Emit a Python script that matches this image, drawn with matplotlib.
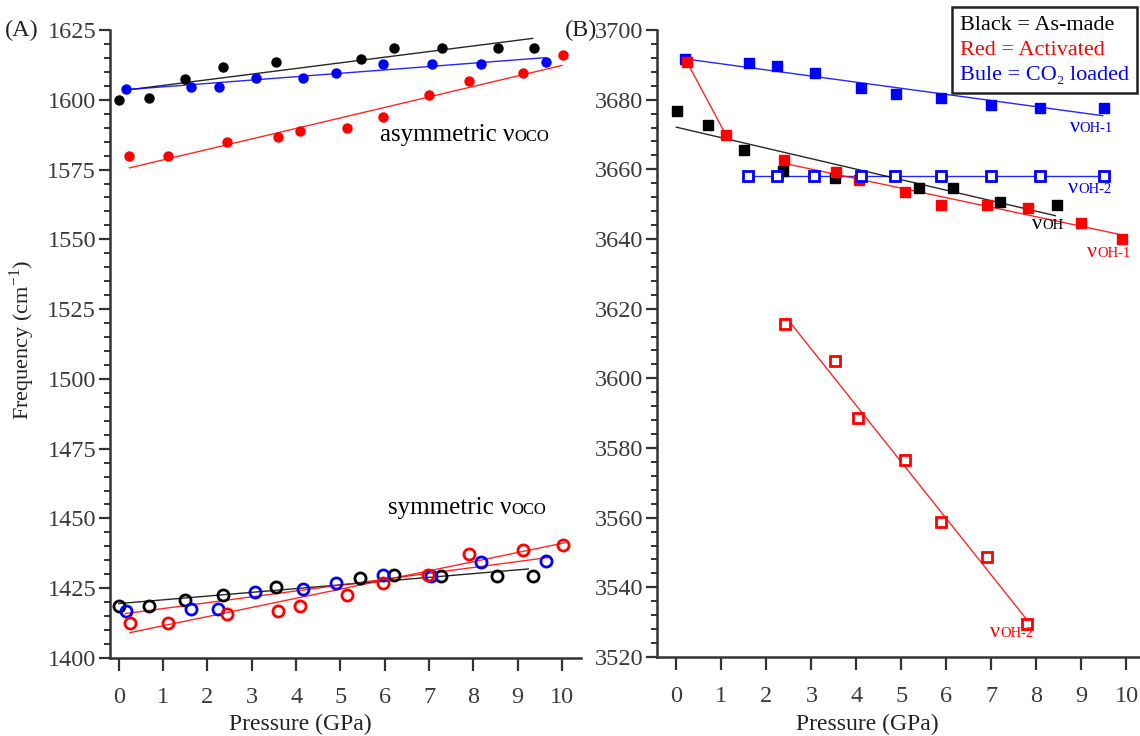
import matplotlib
matplotlib.use("Agg")
import matplotlib.pyplot as plt
from matplotlib.lines import Line2D
from matplotlib.offsetbox import TextArea, HPacker, AnnotationBbox

plt.rcParams['font.family'] = ['Liberation Serif', 'DejaVu Serif']
plt.rcParams['mathtext.fontset'] = 'custom'
plt.rcParams['mathtext.rm'] = 'Liberation Serif'

BLACK, RED, BLUE = '#000000', '#ff0000', '#0000ff'
AX_COL = '#333333'

# ---- (A) asymmetric nu_OCO, filled circles
p_asym_black = [0.0, 0.69, 1.50, 2.36, 3.54, 5.46, 6.20, 7.29, 8.55, 9.36]
f_asym_black = [1600.0, 1600.5, 1607.6, 1611.7, 1613.7, 1614.6, 1618.6, 1618.6, 1618.6, 1618.6]
p_asym_blue = [0.16, 1.63, 2.25, 3.09, 4.16, 4.91, 5.96, 7.07, 8.18, 9.64]
f_asym_blue = [1603.8, 1604.6, 1604.6, 1607.7, 1607.7, 1609.6, 1612.7, 1612.7, 1612.7, 1613.6]
p_asym_red = [0.24, 1.11, 2.43, 3.59, 4.09, 5.15, 5.97, 6.99, 7.91, 9.13, 10.03]
f_asym_red = [1579.8, 1579.8, 1584.8, 1586.7, 1588.8, 1589.8, 1593.8, 1601.7, 1606.7, 1609.6, 1616.0]

# ---- (A) symmetric nu_OCO, open circles
p_sym_black = [0.0, 0.68, 1.50, 2.36, 3.54, 5.44, 6.21, 7.28, 8.54, 9.34]
f_sym_black = [1418.7, 1418.5, 1420.8, 1422.7, 1425.6, 1428.7, 1429.7, 1429.5, 1429.5, 1429.5]
p_sym_blue = [0.15, 1.62, 2.24, 3.08, 4.16, 4.91, 5.97, 7.04, 8.17, 9.63]
f_sym_blue = [1416.9, 1417.7, 1417.7, 1423.7, 1424.6, 1426.8, 1429.7, 1429.5, 1434.5, 1434.6]
p_sym_red = [0.25, 1.11, 2.43, 3.60, 4.09, 5.14, 5.97, 6.98, 7.90, 9.13, 10.02]
f_sym_red = [1412.7, 1412.7, 1415.6, 1416.9, 1418.5, 1422.7, 1426.9, 1429.7, 1437.4, 1438.6, 1440.4]

# fitted lines in (A): [x0, x1], [y0, y1]
fit_asym_black = ([0.23, 9.34], [1603.6, 1622.0])
fit_asym_blue = ([0.14, 9.63], [1603.6, 1615.1])
fit_asym_red = ([0.24, 10.0], [1575.6, 1612.3])
fit_sym_black = ([0.0, 9.24], [1419.5, 1431.9])
fit_sym_blue = ([0.14, 9.69], [1415.9, 1436.0])
fit_sym_red = ([0.25, 10.07], [1409.1, 1441.3])

# ---- (B) nu_OH
p_oh_black = [0.02, 0.71, 1.50, 2.37, 3.53, 5.38, 6.14, 7.20, 8.45]
v_oh_black = [3676.7, 3672.6, 3665.5, 3659.6, 3657.5, 3654.7, 3654.7, 3650.7, 3649.8]
p_oh1_blue = [0.20, 1.62, 2.23, 3.08, 4.11, 4.87, 5.89, 6.98, 8.08, 9.51]
v_oh1_blue = [3691.7, 3690.5, 3689.7, 3687.6, 3683.4, 3681.7, 3680.6, 3678.6, 3677.6, 3677.6]
p_oh2_blue = [1.59, 2.23, 3.06, 4.10, 4.85, 5.89, 6.98, 8.08, 9.51]
v_oh2_blue = [3658.0, 3658.0, 3658.0, 3658.0, 3658.0, 3658.0, 3658.0, 3658.0, 3658.0]
p_oh1_red = [0.24, 1.10, 2.40, 3.54, 4.05, 5.07, 5.89, 6.90, 7.81, 9.00, 9.89]
v_oh1_red = [3690.7, 3669.9, 3662.7, 3659.1, 3656.8, 3653.6, 3649.8, 3649.8, 3648.8, 3644.7, 3639.9]
p_oh2_red = [2.41, 3.52, 4.04, 5.09, 5.89, 6.90, 7.80]
v_oh2_red = [3615.6, 3605.0, 3588.5, 3576.5, 3558.7, 3548.7, 3529.6]

fit_oh_black = ([0.0, 8.42], [3672.1, 3646.7])
fit_oh1_blue = ([0.14, 9.47], [3691.8, 3675.4])
fit_oh2_blue = ([1.59, 9.51], [3658.0, 3658.0])
seg_oh1_red = ([0.24, 1.10], [3690.7, 3669.9])
fit_oh1_red = ([2.40, 10.0], [3661.7, 3640.9])
fit_oh2_red = ([2.45, 7.83], [3617.3, 3530.0])

legend_labels = ['Black = As-made', 'Red = Activated', 'Bule = CO\u2082 loaded']
x_ticks = list(range(0, 11))


def style_axes(ax, ylim, ymajor, yminor, xlim):
    ax.set_xlim(*xlim)
    ax.set_ylim(*ylim)
    ax.set_xticks(x_ticks)
    ax.set_yticks(ymajor)
    ax.set_yticks(yminor, minor=True)
    for s in ['top', 'right']:
        ax.spines[s].set_visible(False)
    for s in ['left', 'bottom']:
        ax.spines[s].set_color(AX_COL)
        ax.spines[s].set_linewidth(1.8)
    ax.tick_params(axis='y', which='major', direction='out', length=8, width=1.6,
                   pad=2, labelsize=17.5, colors=AX_COL, labelcolor='#3a3a3a')
    ax.tick_params(axis='y', which='minor', direction='out', length=4, width=1.4, colors=AX_COL)
    ax.tick_params(axis='x', which='major', direction='out', length=9, width=1.6,
                   pad=12, labelsize=17.5, colors=AX_COL, labelcolor='#3a3a3a')


def nu_label(ax, x, y, head, tail, color, size, small):
    box = HPacker(children=[TextArea(head, textprops=dict(color=color, size=size)),
                            TextArea(tail, textprops=dict(color=color, size=small))],
                  align='baseline', pad=0, sep=0)
    ab = AnnotationBbox(box, (x, y), xycoords='data', frameon=False,
                        box_alignment=(0, 0.5), pad=0, annotation_clip=False)
    ax.add_artist(ab)


fig = plt.figure(figsize=(11.4, 7.36), dpi=100)
axA = fig.add_axes([110 / 1140, 78 / 736, 471 / 1140, 628 / 736])
axB = fig.add_axes([657 / 1140, 79 / 736, 483 / 1140, 627 / 736])

# ---------- panel A
for fit, c in [(fit_asym_black, BLACK), (fit_asym_blue, BLUE), (fit_asym_red, RED),
               (fit_sym_black, BLACK), (fit_sym_blue, RED), (fit_sym_red, RED)]:
    axA.plot(fit[0], fit[1], color=c, lw=1.0, alpha=0.85)

for p, f, c in [(p_asym_black, f_asym_black, BLACK), (p_asym_blue, f_asym_blue, BLUE),
                (p_asym_red, f_asym_red, RED)]:
    axA.plot(p, f, 'o', color=c, ms=6.5, ls='none')

for p, f, c in [(p_sym_black, f_sym_black, BLACK), (p_sym_blue, f_sym_blue, BLUE),
                (p_sym_red, f_sym_red, RED)]:
    axA.plot(p, f, 'o', mfc='none', mec=c, mew=2.0, ms=8, ls='none')

style_axes(axA, (1400, 1625), range(1400, 1626, 25), range(1400, 1626, 5), (-0.2, 10.43))
nu_label(axA, 5.89, 1587.5, 'asymmetric \u03bd', 'OCO', BLACK, 18, 12)
nu_label(axA, 6.07, 1453.6, 'symmetric \u03bd', 'OCO', BLACK, 18, 12)

# ---------- panel B
for fit, c in [(fit_oh1_blue, BLUE), (fit_oh2_blue, BLUE), (seg_oh1_red, RED),
               (fit_oh1_red, RED), (fit_oh_black, BLACK), (fit_oh2_red, RED)]:
    axB.plot(fit[0], fit[1], color=c, lw=1.0, alpha=0.85)

for p, v, c in [(p_oh1_blue, v_oh1_blue, BLUE), (p_oh_black, v_oh_black, BLACK),
                (p_oh1_red, v_oh1_red, RED)]:
    axB.plot(p, v, 's', color=c, ms=7, ls='none')

for p, v, c in [(p_oh2_blue, v_oh2_blue, BLUE), (p_oh2_red, v_oh2_red, RED)]:
    axB.plot(p, v, 's', mfc='white', mec=c, mew=2.0, ms=7, ls='none')

style_axes(axB, (3520, 3700), range(3520, 3701, 20), range(3520, 3701, 4), (-0.43, 10.3))
nu_label(axB, 8.74, 3671.9, '\u03bd', 'OH-1', BLUE, 16, 10.5)
nu_label(axB, 8.70, 3654.6, '\u03bd', 'OH-2', BLUE, 16, 10.5)
nu_label(axB, 7.90, 3644.3, '\u03bd', 'OH', BLACK, 16, 10.5)
nu_label(axB, 9.12, 3636.0, '\u03bd', 'OH-1', RED, 16, 10.5)
nu_label(axB, 6.97, 3526.9, '\u03bd', 'OH-2', RED, 16, 10.5)

handles = [Line2D([], [], ls='none') for _ in legend_labels]
leg = axB.legend(handles, legend_labels, loc='upper right',
                 bbox_to_anchor=(1137 / 1140, 1 - 7 / 736), bbox_transform=fig.transFigure,
                 handlelength=0, handletextpad=0, fontsize=16, labelcolor=[BLACK, RED, BLUE],
                 fancybox=False, framealpha=1, edgecolor='#222222', borderaxespad=0,
                 borderpad=0.35, labelspacing=0.2)
leg.get_frame().set_linewidth(1.8)

# ---------- texts
fig.text(5 / 1140, 1 - 30 / 736, '(A)', fontsize=17.5, va='center', ha='left', color='#222222')
fig.text(597 / 1140, 1 - 30 / 736, '(B)', fontsize=17.5, va='center', ha='right', color='#222222')
fig.text(22 / 1140, 1 - 340 / 736, 'Frequency (cm$^{-1}$)', rotation=90, fontsize=16,
         va='center', ha='center', color='#222222')
fig.text(300 / 1140, 1 - 724 / 736, 'Pressure (GPa)', fontsize=17, va='center', ha='center',
         color='#222222')
fig.text(867 / 1140, 1 - 724 / 736, 'Pressure (GPa)', fontsize=17, va='center', ha='center',
         color='#222222')

fig.savefig('out.png', dpi=100)
